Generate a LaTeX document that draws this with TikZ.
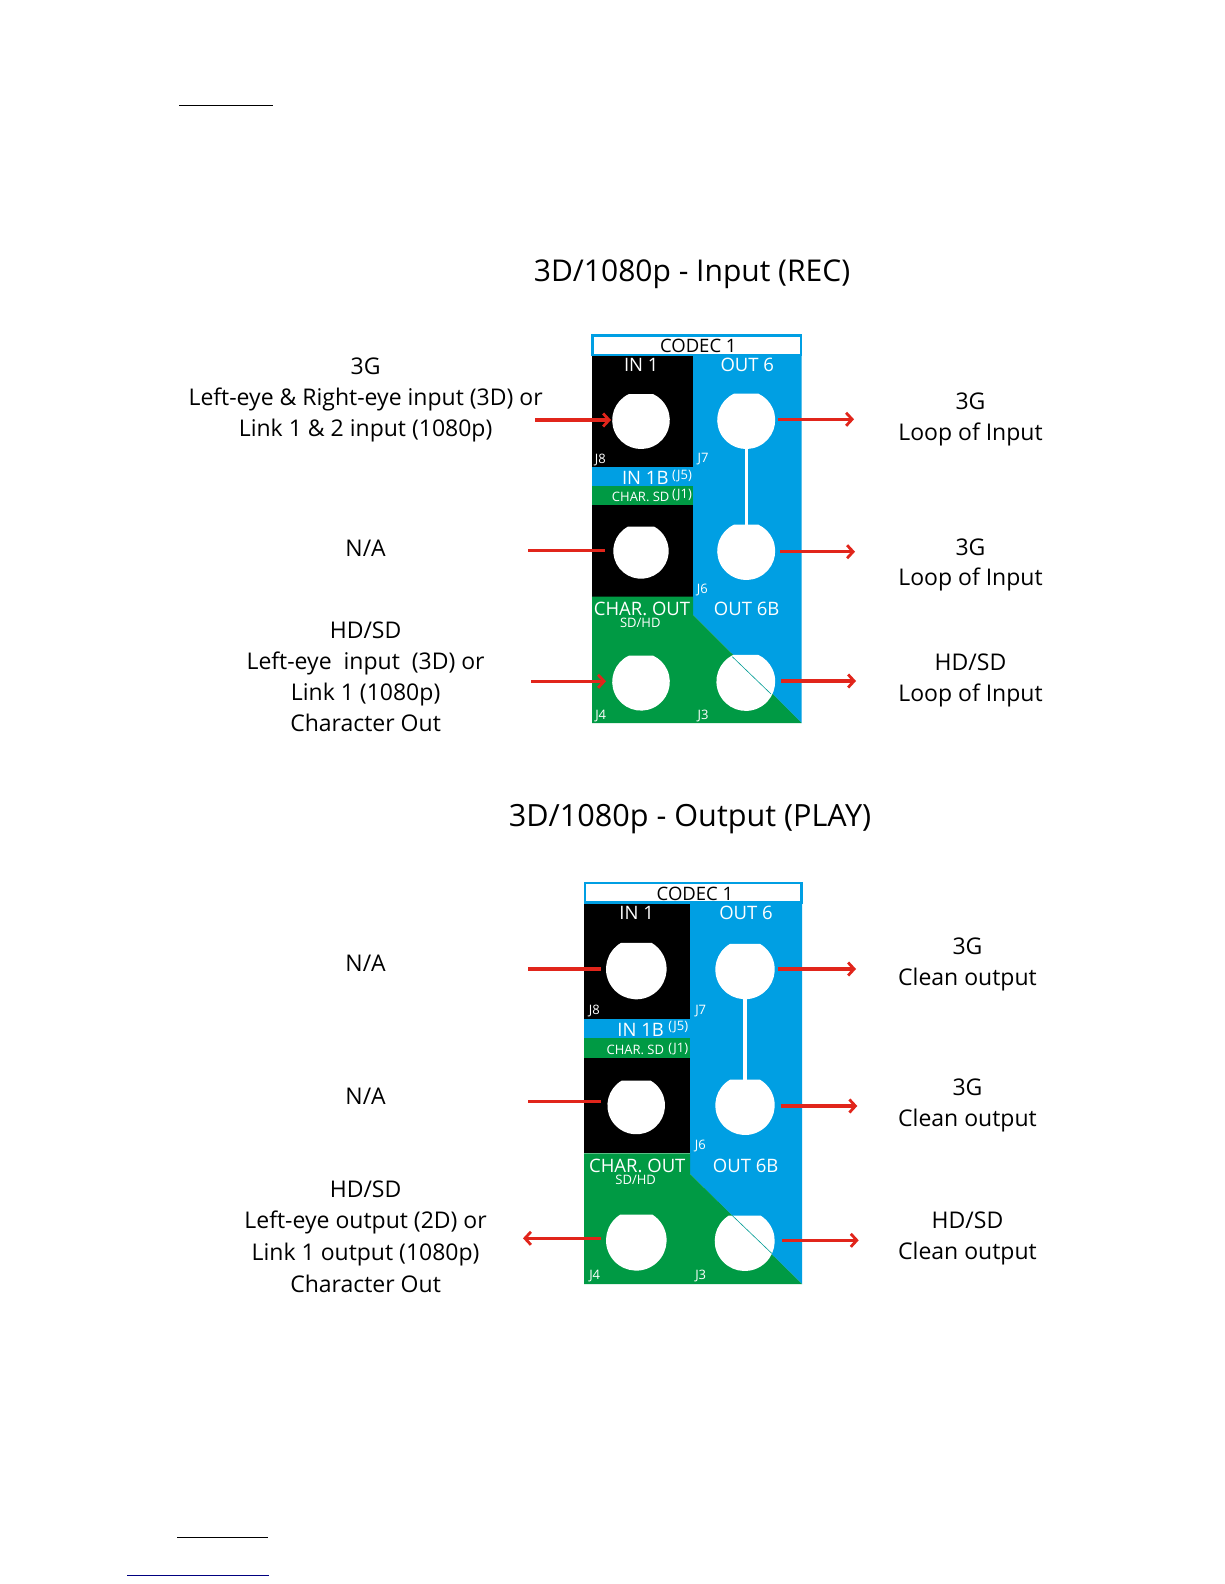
\documentclass[tikz,border=0pt]{standalone}
\usepackage{fontspec}
\setmainfont{Open Sans}
\usetikzlibrary{arrows.meta}
\definecolor{pblue}{HTML}{009FE3}
\definecolor{pgreen}{HTML}{009A44}
\definecolor{pred}{HTML}{E1251B}
\newcommand{\fs}[1]{\fontsize{#1}{#1}\selectfont}
\newcommand{\port}[5]{\coordinate (#1) at (#2,#3);\fill[white] (#2,#3) ++({180+#5}:#4) arc[start angle={180+#5},end angle={-#5},radius=#4] -- cycle;}
\tikzset{
  lab/.style={align=center,inner sep=0pt,black,font=\fontsize{23}{30.8}\selectfont},
  lab4/.style={align=center,inner sep=0pt,black,font=\fontsize{23}{31.6}\selectfont},
  ttl/.style={inner sep=0pt,black,font=\fs{30}},
  big/.style={inner sep=0pt,white,font=\fs{18.5}},
  mid/.style={inner sep=0pt,white,font=\fs{13}},
  sml/.style={inner sep=0pt,white,font=\fs{13}},
  codec/.style={inner sep=0pt,black,font=\fs{18.5}},
  inarr/.style={draw=pred,line width=3.4pt,-{Straight Barb[length=6pt,width=13pt,line width=2.8pt]}},
  stub/.style={draw=pred,line width=3.4pt},
  linkw/.style={draw=white,line width=3.4pt},
  thin/.style={draw=pblue!50!pgreen,line width=0.6pt},
  rule/.style={line width=1pt}
}
\begin{document}
\begin{tikzpicture}[x=1pt,y=-1pt]
\useasboundingbox (0,0) rectangle (1224,1584);
\fill[white] (0,0) rectangle (1224,1584);
% rules
\coordinate (r1a) at (179,106);\coordinate (r1b) at (272.5,106);
\coordinate (r2a) at (177,1537.3);\coordinate (r2b) at (268,1537.3);
\coordinate (r3a) at (127,1575.3);\coordinate (r3b) at (269,1575.3);
\draw[rule] (r1a)--(r1b);
\draw[rule] (r2a)--(r2b);
\draw[rule,draw=blue!50!black] (r3a)--(r3b);
% titles
\node[ttl] (t1) at (692,274.6) {3D/1080p - Input (REC)};
\node[ttl,font=\fs{30.6}] (t2) at (690,819) {3D/1080p - Output (PLAY)};
% panel 1
\fill[black] (592,356) rectangle (693,467);
\fill[pblue] (592,467) rectangle (693,486);
\fill[pgreen] (592,486) rectangle (693,505.3);
\fill[black] (592,505.3) rectangle (693,596.7);
\fill[pblue] (693,356) -- (801.7,356) -- (801.7,723) -- (693,615) -- cycle;
\fill[pgreen] (592,596.7) -- (693,596.7) -- (693,615) -- (801.7,723) -- (592,723) -- cycle;
\draw[pblue,line width=2.4pt,fill=white] (592.5,335.5) rectangle (801,355);
\port{pa}{641}{420.2}{28.8}{65}
\port{pb}{746.2}{420}{29}{65}
\port{pc}{641}{551}{27.7}{62}
\port{pd}{746.2}{551}{29}{65}
\port{pe}{641}{681.8}{28.8}{65}
\port{pf}{745.8}{681.5}{29.4}{65}
\draw[linkw] (pb) -- (pd);
\coordinate (da1) at (732.3,656.7);\coordinate (da2) at (771,694);
\draw[thin] (da1)--(da2);
\node[codec] (c1) at (698.3,346) {CODEC 1};
\node[big] (i1) at (641.3,365) {IN 1};
\node[big] (o6) at (747.3,365) {OUT 6};
\node[sml] (j8) at (600.3,460) {J8};
\node[sml] (j7) at (703,459.3) {J7};
\node[big] (i1b) at (645.3,478) {IN 1B};
\node[sml] (j5) at (682,475.7) {(J5)};
\node[mid] (cs) at (640.7,497) {CHAR. SD};
\node[sml] (j1) at (682,495.3) {(J1)};
\node[sml] (j6) at (702.3,590) {J6};
\node[big] (co) at (642,609) {CHAR. OUT};
\node[sml] (sh) at (640.3,623.3) {SD/HD};
\node[big] (o6b) at (746.7,609) {OUT 6B};
\node[sml] (j4) at (600.7,716) {J4};
\node[sml] (j3) at (703,716) {J3};
% arrows 1
\coordinate (a1s) at (535,420);\coordinate (a1e) at (611,420);
\coordinate (a2s) at (528,550.3);\coordinate (a2e) at (605,550.3);
\coordinate (a3s) at (531,681.3);\coordinate (a3e) at (606,681.3);
\coordinate (a4s) at (778,419.3);\coordinate (a4e) at (854,419.3);
\coordinate (a5s) at (780,551.7);\coordinate (a5e) at (855,551.7);
\coordinate (a6s) at (781,681);\coordinate (a6e) at (856,681);
\draw[inarr] (a1s)--(a1e);
\draw[stub] (a2s)--(a2e);
\draw[inarr] (a3s)--(a3e);
\draw[inarr] (a4s)--(a4e);
\draw[inarr] (a5s)--(a5e);
\draw[inarr] (a6s)--(a6e);
% labels 1
\node[lab] (l1) at (365.6,400) {3G\\Left-eye \& Right-eye input (3D) or\\Link 1 \& 2 input (1080p)};
\node[lab] (l2) at (365.6,548.4) {N/A};
\node[lab] (l3) at (365.6,676.7) {HD/SD\\Left-eye\ \ input\ \ (3D) or\\Link 1 (1080p)\\Character Out};
\node[lab] (r1) at (970.5,419.6) {3G\\Loop of Input};
\node[lab] (r2) at (970.5,565) {3G\\Loop of Input};
\node[lab] (r3) at (970.5,680.1) {HD/SD\\Loop of Input};
% panel 2
\fill[black] (584,903.3) rectangle (690,1019);
\fill[pblue] (584,1019) rectangle (690,1038.3);
\fill[pgreen] (584,1038.3) rectangle (690,1057.7);
\fill[black] (584,1057.7) rectangle (690,1153.3);
\fill[pblue] (690,903.3) -- (802,903.3) -- (802,1284) -- (690,1174) -- cycle;
\fill[pgreen] (584,1153.3) -- (690,1153.3) -- (690,1174) -- (802,1284) -- (584,1284) -- cycle;
\draw[pblue,line width=2.4pt,fill=white] (585,883) rectangle (801.5,902.3);
\port{qa}{636.3}{969}{30.3}{60}
\port{qb}{745}{969.5}{29.7}{60}
\port{qc}{636.2}{1105.5}{28.8}{60}
\port{qd}{745}{1105.3}{29.7}{60}
\port{qe}{636.3}{1240.3}{30.3}{58}
\port{qf}{744.7}{1241}{30}{58}
\draw[linkw] (qb) -- (qd);
\coordinate (db1) at (731.7,1215);\coordinate (db2) at (771.7,1253.3);
\draw[thin] (db1)--(db2);
\node[codec] (c2) at (695,893.5) {CODEC 1};
\node[big] (qi1) at (636.7,913) {IN 1};
\node[big] (qo6) at (746,913) {OUT 6};
\node[sml] (qj8) at (594.3,1011) {J8};
\node[sml] (qj7) at (700.7,1011) {J7};
\node[big] (qi1b) at (640.7,1030) {IN 1B};
\node[sml] (qj5) at (678.3,1027.3) {(J5)};
\node[mid] (qcs) at (635.3,1049.7) {CHAR. SD};
\node[sml] (qj1) at (678.3,1048.7) {(J1)};
\node[sml] (qj6) at (700.3,1145.7) {J6};
\node[big] (qco) at (637.3,1165.5) {CHAR. OUT};
\node[sml] (qsh) at (635.7,1180) {SD/HD};
\node[big] (qo6b) at (745.7,1165.5) {OUT 6B};
\node[sml] (qj4) at (594.7,1276) {J4};
\node[sml] (qj3) at (700.7,1276) {J3};
% arrows 2
\coordinate (b1s) at (528,969);\coordinate (b1e) at (600.7,969);
\coordinate (b2s) at (528,1101.3);\coordinate (b2e) at (600.7,1101.3);
\coordinate (b3s) at (600.7,1238.3);\coordinate (b3e) at (523,1238.3);
\coordinate (b4s) at (778,969);\coordinate (b4e) at (856,969);
\coordinate (b5s) at (780.7,1106);\coordinate (b5e) at (857.3,1106);
\coordinate (b6s) at (782,1240.3);\coordinate (b6e) at (858.7,1240.3);
\draw[stub] (b1s)--(b1e);
\draw[stub] (b2s)--(b2e);
\draw[inarr] (b3s)--(b3e);
\draw[inarr] (b4s)--(b4e);
\draw[inarr] (b5s)--(b5e);
\draw[inarr] (b6s)--(b6e);
% labels 2
\node[lab] (m1) at (365.6,963.5) {N/A};
\node[lab] (m2) at (365.6,1095.8) {N/A};
\node[lab4] (m3) at (365.6,1236.5) {HD/SD\\Left-eye output (2D) or\\Link 1 output (1080p)\\Character Out};
\node[lab] (s1) at (967.5,964.5) {3G\\Clean output};
\node[lab] (s2) at (967.5,1105.8) {3G\\Clean output};
\node[lab] (s3) at (967.5,1238.4) {HD/SD\\Clean output};
\end{tikzpicture}
\end{document}
